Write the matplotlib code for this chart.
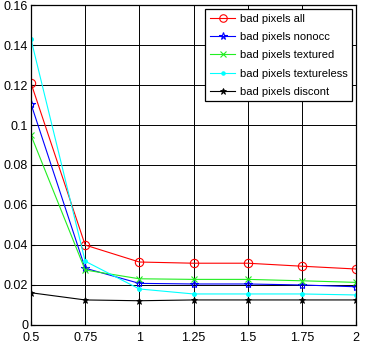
import numpy as np
import matplotlib.pyplot as plt

plt.rcParams['font.family'] = ['Liberation Sans', 'DejaVu Sans']

x = [0.5, 0.75, 1, 1.25, 1.5, 1.75, 2]
bad_all = [0.121, 0.0399, 0.0314, 0.0308, 0.0308, 0.0293, 0.0279]
bad_nonocc = [0.1106, 0.0283, 0.0207, 0.0204, 0.0204, 0.0199, 0.019]
bad_textured = [0.0949, 0.0274, 0.023, 0.0227, 0.0227, 0.022, 0.0212]
bad_textureless = [0.143, 0.0318, 0.0179, 0.0154, 0.0154, 0.0154, 0.0149]
bad_discont = [0.016, 0.0124, 0.012, 0.0124, 0.0124, 0.0124, 0.0124]

fig = plt.figure(figsize=(3.7, 3.48), dpi=100)
ax = fig.add_axes([31/370, 1 - 324.7/348, 325/370, 319.4/348])

ax.plot(x, bad_all, color='red', marker='o', mfc='none', ms=6, mew=0.8, lw=0.8, label='bad pixels all')
ax.plot(x, bad_nonocc, color='blue', marker='*', mfc='none', ms=6, mew=0.8, lw=0.8, label='bad pixels nonocc')
ax.plot(x, bad_textured, color='#22ee22', marker='x', ms=5, mew=0.8, lw=0.8, label='bad pixels textured')
ax.plot(x, bad_textureless, color='cyan', marker='.', ms=5, lw=0.8, label='bad pixels textureless')
ax.plot(x, bad_discont, color='black', marker='*', ms=5, mew=0.6, lw=0.8, label='bad pixels discont')

ax.set_xlim(0.5, 2)
ax.set_ylim(0, 0.16)
ax.set_xticks(x)
ax.set_xticklabels(['0.5', '0.75', '1', '1.25', '1.5', '1.75', '2'])
ax.set_yticks(np.arange(0, 0.161, 0.02))
ax.set_yticklabels(['0', '0.02', '0.04', '0.06', '0.08', '0.1', '0.12', '0.14', '0.16'])
ax.tick_params(direction='in', labelsize=9, length=3, pad=2)
ax.tick_params(axis='x', pad=5)
ax.grid(True, color='black', lw=0.7)
for s in ax.spines.values():
    s.set_linewidth(0.9)

leg = ax.legend(loc='upper right', fontsize=8, fancybox=False, framealpha=1,
                edgecolor='black', handlelength=2.3, borderpad=0.4, labelspacing=0.75,
                handletextpad=0.4, borderaxespad=0.35, markerscale=0.9)
leg.get_frame().set_linewidth(0.9)

fig.savefig('out.png', dpi=100)
